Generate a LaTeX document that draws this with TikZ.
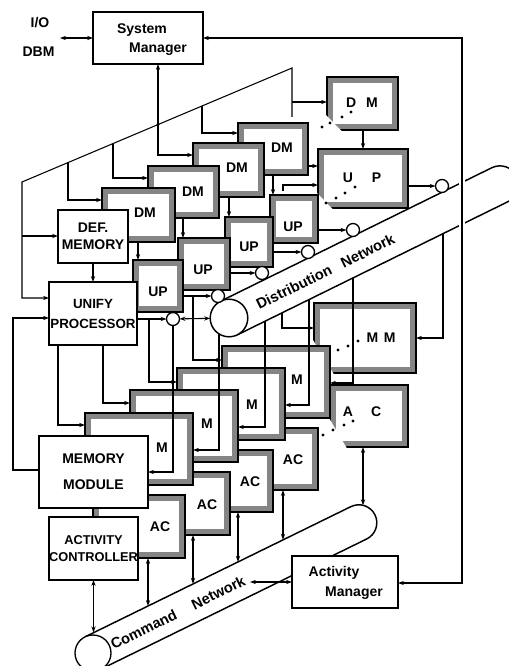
\documentclass[tikz,border=0pt]{standalone}
\usepackage{fontspec}
\setmainfont{Liberation Sans}
\usetikzlibrary{arrows.meta}
\newcommand{\lbl}{\fontsize{10.5}{12}\selectfont\bfseries}
\newcommand{\lbla}{\fontsize{10}{12}\selectfont\bfseries}
\newcommand{\lblb}{\fontsize{9.6}{11.5}\selectfont\bfseries}
\newcommand{\lblt}{\fontsize{11}{13}\selectfont\bfseries}
\tikzset{
 fr/.style={draw, line width=0.9pt, fill=black!48, inner sep=0pt, outer sep=0pt,
   path picture={\fill[white] ([shift={(4.6pt,-4.6pt)}]path picture bounding box.north west) rectangle ([shift={(-4.6pt,4.6pt)}]path picture bounding box.south east);}},
 pb/.style={draw, line width=1.1pt, fill=white, inner sep=0pt, outer sep=0pt, font=\lbl, align=center},
 lb/.style={font=\lbl, inner sep=0pt},
 tl/.style={font=\lblt, inner sep=0pt},
 cn/.style={line width=0.8pt, -{Stealth[length=4.5pt,width=3.2pt]}},
 cnn/.style={line width=0.8pt},
 bi/.style={line width=0.8pt, {Stealth[length=4.5pt,width=3.2pt]}-{Stealth[length=4.5pt,width=3.2pt]}},
 tube/.style={line width=1.1pt, fill=white},
 port/.style={circle, draw, line width=1pt, fill=white, minimum size=9.75pt, inner sep=0pt, outer sep=0pt},
}
\newcommand{\shb}[8]{%
 \node[fr, minimum width={(#4-#2)*0.75pt}, minimum height={(#5-#3)*0.75pt}] (#1) at ({(#2+#4)/2},{(#3+#5)/2}) {};
 \node[lb] (#1t) at (#6,#7) {#8};}
\newcommand{\plb}[7]{%
 \node[pb,#6,minimum width={(#4-#2)*0.75pt},minimum height={(#5-#3)*0.75pt}] (#1) at ({(#2+#4)/2},{(#3+#5)/2}) {#7};}
\begin{document}
\begin{tikzpicture}[x=0.75pt,y=-0.75pt]
\useasboundingbox (0,0) rectangle (508,666);

% ---------- Command network tube
\begin{scope}[shift={(93,653)},rotate=26.1]
 \draw[tube] (0,-18) -- (296,-18) arc[start angle=-90,end angle=90,radius=18] -- (0,18);
 \node[tl, rotate=26.1] (cmdt) at (56,1) {Command};
 \node[tl, rotate=26.1] (cmdn) at (139,1) {Network};
\end{scope}
\node[port, minimum size=27pt] (cnc) at (93,653) {};

% ---------- Distribution network tube
\begin{scope}[shift={(229,318)},rotate=26.2]
 \draw[tube] (0,-18.8) -- (302,-18.8) arc[start angle=-90,end angle=90,radius=18.8] -- (0,18.8);
 \node[tl, rotate=26.2] (dt1) at (72,1) {Distribution};
 \node[tl, rotate=26.2] (dt2) at (154,1) {Network};
\end{scope}
\node[port, minimum size=28.2pt, line width=1.1pt] (dnc) at (229,318) {};

% ---------- AC stack
\shb{ac5}{330}{385}{408}{447}{362}{412}{A\hspace{1.3em}C}
\fill[white] (329,418) -- (329,448.5) -- (347,448.5) -- cycle;
\foreach \p in {(323,435),(333,430),(344,425),(353,421)} \fill \p circle[radius=1.7];
\shb{ac4}{228}{428}{318}{490}{293}{460}{AC}
\shb{ac3}{183}{450}{273}{512}{250}{482}{AC}
\shb{ac2}{138}{472}{230}{535}{207}{505}{AC}
\shb{ac1}{93}{495}{185}{558}{160}{527}{AC}
\plb{ac0}{49}{517}{138}{580}{font=\lblb}{ACTIVITY\\[1.3pt]CONTROLLER}

% ---------- M stack
\shb{m5}{314}{303}{416}{373}{381}{338}{M\hspace{0.4em}M}
\fill[white] (313,340) -- (313,374.5) -- (334,374.5) -- cycle;
\foreach \p in {(338,350),(348,346),(358,341)} \fill \p circle[radius=1.7];
\shb{m4}{222}{346}{330}{418}{297}{380}{M}
\shb{m3}{177}{368}{285}{440}{252}{405}{M}
\shb{m2}{130}{390}{238}{462}{207}{424}{M}
\shb{m1}{85}{413}{193}{485}{162}{448}{M}
\plb{mm0}{39}{436}{148}{508}{}{MEMORY\\[7.5pt]MODULE}

% ---------- UP stack
\shb{up5}{318}{149}{408}{208}{362}{178}{U\hspace{1.35em}P}
\fill[white] (317,193) -- (317,209.5) -- (333,209.5) -- cycle;
\foreach \p in {(326,203),(336,198),(345,193),(355,187)} \fill \p circle[radius=1.7];
\shb{up4}{270}{195}{318}{243}{293}{227}{UP}
\shb{up3}{225}{217}{273}{267}{249}{247}{UP}
\shb{up2}{178}{238}{230}{290}{203}{270}{UP}
\shb{up1}{133}{260}{183}{312}{158}{292}{UP}
\plb{up0}{49}{282}{137}{345}{font=\lbla}{UNIFY\\[3pt]PROCESSOR}

% ---------- DM stack
\shb{dm5}{327}{77}{398}{130}{362}{103}{D\hspace{0.7em}M}
\fill[white] (326,115) -- (326,131.5) -- (342,131.5) -- cycle;
\foreach \p in {(322,127),(330,123),(342,117),(351,112)} \fill \p circle[radius=1.7];
\shb{dm4}{238}{123}{308}{175}{282}{148}{DM}
\shb{dm3}{193}{143}{264}{197}{237}{168}{DM}
\shb{dm2}{148}{166}{219}{218}{193}{192}{DM}
\shb{dm1}{102}{188}{175}{242}{145}{213}{DM}
\plb{dmem}{58}{210}{128}{263}{}{DEF.\\[1pt]MEMORY}

% ---------- managers and I/O
\plb{sm}{93}{12}{203}{64}{}{}
\node[lb] (smt1) at (142,30) {System};
\node[lb] (smt2) at (158,49) {Manager};
\plb{am}{292}{556}{398}{608}{}{}
\node[lb] (amt1) at (334,573) {Activity};
\node[lb] (amt2) at (354,593) {Manager};
\node[lb] (io) at (40,23) {I/O};
\node[lb] (dbm) at (38.5,52) {DBM};

% ---------- ports on the distribution network
\node[port] (c0) at (173,319) {};
\node[port] (c1) at (218,296) {};
\node[port] (c2) at (262,273) {};
\node[port] (c3) at (308,252) {};
\node[port] (c4) at (353,230) {};
\node[port] (c5) at (442,186) {};

% ---------- connectors
\coordinate (iop) at (60,38);
\draw[bi] (iop) -- (iop -| sm.west);

\coordinate (rt) at (462,38);
\coordinate (rb) at (462,583);
\draw[white, line width=5pt] (462,172) -- (462,236);
\draw[bi] (rt -| sm.east) -- (rt) -- (rb) -- (rb -| am.east);

% slant bus
\coordinate (b0) at (292,117);
\coordinate (b1) at (292,68);
\coordinate (b2) at (22,182);
\coordinate (b3) at (22,298);
\coordinate (b4) at (22,236);
\draw[cn] (b0) -- (b1) -- (b2) -- (b3) -- (b3 -| up0.west);
\draw[cn] (b4) -- (b4 -| dmem.west);
\coordinate (t1) at (68,162.6);
\coordinate (t2) at (113,143.6);
\coordinate (t3) at (158,124.6);
\coordinate (t4) at (202,106);
\coordinate (t5) at (292,102);
\draw[cn] (t1) -- (68,200) -- (68,200 -| dm1.west);
\draw[cn] (t2) -- (113,178) -- (113,178 -| dm2.west);
\draw[bi] (158,0 |- sm.south) -- (158,155) -- (158,155 -| dm3.west);
\fill (t3) circle[radius=1.6];
\draw[cn] (t4) -- (202,133) -- (202,133 -| dm4.west);
\draw[cn] (t5) -- (t5 -| dm5.west);

% DM -> UP
\draw[cn] (dmem.south) -- (up0.north);
\draw[cn] (138,0 |- dm1.south) -- (138,0 |- up1.north);
\draw[cn] (183,0 |- dm2.south) -- (183,0 |- up2.north);
\draw[cn] (229,0 |- dm3.south) -- (229,0 |- up3.north);
\draw[cn] (273,0 |- dm4.south) -- (273,0 |- up4.north);
\draw[cn] (363,0 |- dm5.south) -- (363,0 |- up5.north);
\draw[cn] (dm4.east |- 0,166) -- (up5.west |- 0,166);
\coordinate (u5a) at (283,191);
\draw[cn] (u5a) -- (283,185) -- (up5.west |- 0,185);

% UP -> ports
\draw[cn] (up0.east |- c0) -- (c0);
\draw[cn] (up1.east |- c1) -- (c1);
\draw[cn] (up2.east |- c2) -- (c2);
\draw[cn] (up3.east |- c3) -- (c3);
\draw[cn] (up4.east |- c4) -- (c4);
\draw[cn] (up5.east |- c5) -- (c5);
\draw[bi] (c0) -- (dnc);

% distribution network -> M (right sides)
\coordinate (e1) at (219,334);
\coordinate (e2) at (265,321.3);
\coordinate (e3) at (309,299.6);
\coordinate (e4) at (353,278);
\coordinate (e5) at (443,233.7);
\coordinate (e6) at (282,312.9);
\draw[cn] (c0.south) -- (c0.south |- 0,472) -- (mm0.east |- 0,472);
\draw[cn] (e1) -- (219,450) -- (m1.east |- 0,450);
\draw[cn] (e2) -- (265,427) -- (m2.east |- 0,427);
\draw[cn] (e3) -- (309,405) -- (m3.east |- 0,405);
\draw[cn] (e4) -- (353,383) -- (m4.east |- 0,383);
\draw[cn] (e5) -- (443,338) -- (m5.east |- 0,338);

% UP -> M (left sides)
\draw[cn] (58,0 |- up0.south) -- (58,425) -- (m1.west |- 0,425);
\draw[cn] (103,0 |- up0.south) -- (103,403) -- (m2.west |- 0,403);
\coordinate (g3) at (149,319);
\coordinate (g4) at (193,296);
\draw[cn] (g3) -- (149,382) -- (m3.west |- 0,382);
\draw[cn] (g4) -- (193,360) -- (m4.west |- 0,360);
\draw[cn] (e6) -- (282,328) -- (m5.west |- 0,328);

% memory module feedback and activity controller
\draw[cn] (mm0.west |- 0,470) -- (13,470) -- (13,318) -- (up0.west |- 0,318);
\draw[cnn] (mm0.south) -- (ac0.north);

% AC <-> command network
\coordinate (k0) at (93.5,632.4);
\coordinate (k1) at (148,606);
\coordinate (k2) at (193,583.9);
\coordinate (k3) at (238,561.9);
\coordinate (k4) at (283,539.8);
\coordinate (k5) at (363,505.3);
\coordinate (k6) at (250,582);
\draw[bi] (ac0.south) -- (k0);
\draw[bi] (148,0 |- ac1.south) -- (k1);
\draw[bi] (193,0 |- ac2.south) -- (k2);
\draw[bi] (238,0 |- ac3.south) -- (k3);
\draw[bi] (283,0 |- ac4.south) -- (k4);
\draw[bi] (363,0 |- ac5.south) -- (k5);
\draw[bi] (k6) -- (k6 -| am.west);
\end{tikzpicture}
\end{document}
